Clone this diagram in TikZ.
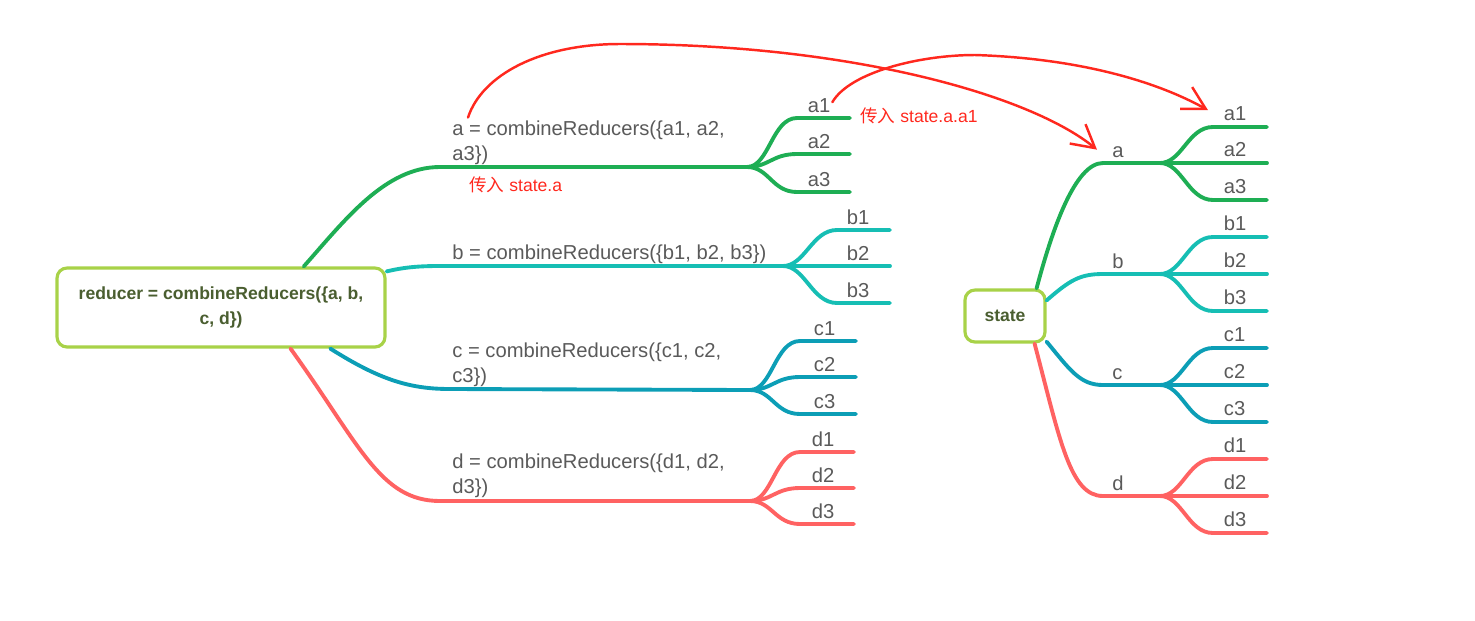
\documentclass[tikz,border=0pt]{standalone}
\usepackage{fontspec}
\setmainfont{Liberation Sans}
\newfontfamily\cjk{Noto Sans CJK SC}
\usetikzlibrary{calc,arrows.meta}
\definecolor{cGreen}{RGB}{30,174,84}
\definecolor{cTeal}{RGB}{22,190,180}
\definecolor{cBlue}{RGB}{12,158,182}
\definecolor{cSalmon}{RGB}{255,98,98}
\definecolor{cLime}{RGB}{168,210,72}
\definecolor{cDark}{RGB}{74,94,48}
\definecolor{cGray}{RGB}{90,90,90}
\definecolor{cRed}{RGB}{255,40,30}

\begin{document}
\begin{tikzpicture}[x=0.02cm, y=-0.02cm,
  branch/.style={line width=2.2pt, line cap=round},
  box/.style={draw=cLime, line width=1.8pt, rounded corners=0.2cm, fill=white, text=cDark, align=center,
    font=\fontsize{10}{14.2}\selectfont\bfseries},
  lbl/.style={inner sep=0pt, text=cGray, font=\fontsize{11.5}{14.2}\selectfont},
  note/.style={inner sep=0pt, text=cRed, font=\fontsize{10}{12}\selectfont},
  hand/.style={cRed, line width=1.4pt, line cap=round, -{Straight Barb[length=4.5mm,width=5mm]}}]
        \useasboundingbox (0,0) rectangle (1475,620);

        % left tree: reducer
        \node[box, minimum width=6.56cm, minimum height=1.58cm] (root) at (221,307.5) {reducer = combineReducers(\{a, b,\\ c, d\})};
        \node[lbl, anchor=south west, align=left] (la) at (452,165) {a = combineReducers(\{a1, a2,\\ a3\})};
        \node[lbl, anchor=south west] (lb) at (452,264) {b = combineReducers(\{b1, b2, b3\})};
        \node[lbl, anchor=south west, align=left] (lc) at (452,387) {c = combineReducers(\{c1, c2,\\ c3\})};
        \node[lbl, anchor=south west, align=left] (ld) at (452,498) {d = combineReducers(\{d1, d2,\\ d3\})};
        \coordinate (lfa) at (747,167);
        \coordinate (lfb) at (783,266);
        \coordinate (lfc) at (750,390);
        \coordinate (lfd) at (750,501);

        \draw[branch, cGreen] ($(root.north west)!0.75!(root.north east)$) .. controls (345,220) and (385,167) .. (440,167) -- (lfa);
        \draw[branch, cTeal] ($(root.north east)+(0,5)$) .. controls (405,267) and (420,266) .. (440,266) -- (lfb);
        \draw[branch, cBlue] ($(root.south west)!0.83!(root.south east)$) .. controls (380,380) and (410,389) .. (450,389) -- (lfc);
        \draw[branch, cSalmon] ($(root.south west)!0.71!(root.south east)$) .. controls (360,445) and (380,501) .. (440,501) -- (lfd);

        \foreach \n/\y in {a1/118, a2/154, a3/192}
          \draw[branch, cGreen] (lfa) .. controls +(22,0) and +(-25,0) .. (797,\y) -- (850,\y)
            node[lbl, anchor=base west] (l\n) at (806,\y-6) {\n};
        \foreach \n/\y in {b1/230, b2/266, b3/303}
          \draw[branch, cTeal] (lfb) .. controls +(22,0) and +(-25,0) .. (837,\y) -- (890,\y)
            node[lbl, anchor=base west] (l\n) at (845,\y-6) {\n};
        \foreach \n/\y in {c1/341, c2/377, c3/414}
          \draw[branch, cBlue] (lfc) .. controls +(22,0) and +(-25,0) .. (800,\y) -- (856,\y)
            node[lbl, anchor=base west] (l\n) at (812,\y-6) {\n};
        \foreach \n/\y in {d1/452, d2/488, d3/524}
          \draw[branch, cSalmon] (lfd) .. controls +(22,0) and +(-25,0) .. (800,\y) -- (854,\y)
            node[lbl, anchor=base west] (l\n) at (810,\y-6) {\n};

        % right tree: state
        \node[box, minimum width=1.6cm, minimum height=1.04cm] (state) at (1005,316) {state};
        \node[lbl, anchor=base west] (ra) at (1112,157) {a};
        \node[lbl, anchor=base west] (rb) at (1112,268) {b};
        \node[lbl, anchor=base west] (rc) at (1112,379) {c};
        \node[lbl, anchor=base west] (rd) at (1112,490) {d};
        \coordinate (rfa) at (1160,163);
        \coordinate (rfb) at (1160,274);
        \coordinate (rfc) at (1160,385);
        \coordinate (rfd) at (1160,496);

        \draw[branch, cGreen] ($(state.north east)+(-10,0)$) .. controls (1052,230) and (1075,163) .. (1103,163) -- (rfa);
        \draw[branch, cTeal] ($(state.north east)+(0,12)$) .. controls (1070,280) and (1080,274) .. (1103,274) -- (rfb);
        \draw[branch, cBlue] ($(state.south east)+(0,-2)$) .. controls (1070,370) and (1080,385) .. (1103,385) -- (rfc);
        \draw[branch, cSalmon] ($(state.south east)+(-12,0)$) .. controls (1060,440) and (1070,496) .. (1103,496) -- (rfd);

        \foreach \n/\y in {a1/127, a2/163, a3/200}
          \draw[branch, cGreen] (rfa) .. controls +(22,0) and +(-25,0) .. (1213,\y) -- (1267,\y)
            node[lbl, anchor=base west] (r\n) at (1222,\y-7) {\n};
        \foreach \n/\y in {b1/237, b2/274, b3/311}
          \draw[branch, cTeal] (rfb) .. controls +(22,0) and +(-25,0) .. (1213,\y) -- (1267,\y)
            node[lbl, anchor=base west] (r\n) at (1222,\y-7) {\n};
        \foreach \n/\y in {c1/348, c2/385, c3/422}
          \draw[branch, cBlue] (rfc) .. controls +(22,0) and +(-25,0) .. (1213,\y) -- (1267,\y)
            node[lbl, anchor=base west] (r\n) at (1222,\y-7) {\n};
        \foreach \n/\y in {d1/459, d2/496, d3/533}
          \draw[branch, cSalmon] (rfd) .. controls +(22,0) and +(-25,0) .. (1213,\y) -- (1267,\y)
            node[lbl, anchor=base west] (r\n) at (1222,\y-7) {\n};

        % red notes
        \node[note, anchor=base west] (na) at (469,191) {{\cjk 传入} state.a};
        \node[note, anchor=base west] (naa) at (860,122) {{\cjk 传入} state.a.a1};
        \draw[hand] ($(la.north west)+(16,-3)$) .. controls (482,75) and (540,44) .. (620,44)
          .. controls (850,44) and (1030,95) .. ($(ra.west)+(-15,-2)$);
        \draw[hand] ($(la1.east)+(0,-3)$) .. controls (850,72) and (920,55) .. (975,55)
          .. controls (1070,58) and (1150,78) .. ($(ra1.west)+(-14,-3)$);
\end{tikzpicture}
\end{document}
